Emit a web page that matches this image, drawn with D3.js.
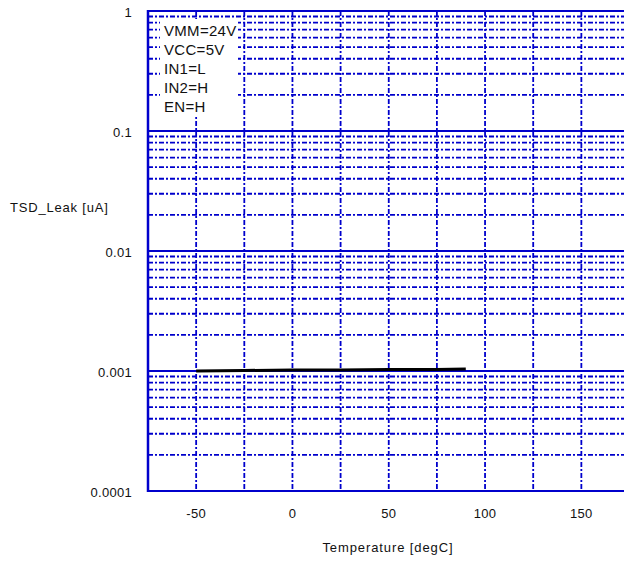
<!DOCTYPE html>
<html>
<head>
<meta charset="utf-8">
<script src="https://cdn.jsdelivr.net/npm/d3@7"></script>
<style>
  body { margin: 0; background: #fff; }
  text { font-family: "Liberation Sans", Arial, sans-serif; fill: #111; }
</style>
</head>
<body>
<div id="chart"></div>
<script>
// data
const temps = [-50, -25, 0, 25, 50, 75, 90]
const leak = [0.00100, 0.00101, 0.00102, 0.00102, 0.00103, 0.00103, 0.00104]
const xTicks = [-50, 0, 50, 100, 150]
const xGrid = [-50, -25, 0, 25, 50, 75, 100, 125, 150]
const yDecades = [1, 0.1, 0.01, 0.001, 0.0001]
const yTickLabels = ["1", "0.1", "0.01", "0.001", "0.0001"]
const conditions = ["VMM=24V", "VCC=5V", "IN1=L", "IN2=H", "EN=H"]

const W = 624, H = 563
const blue = "#0000cc"

const svg = d3.select("#chart").append("svg")
    .attr("width", W)
    .attr("height", H)

const x = d3.scaleLinear().domain([-75, 175]).range([148, 629.5])
const y = d3.scaleLog().domain([0.0001, 1]).range([491, 11])

// minor horizontal grid (2..9 of each decade)
let minors = []
yDecades.slice(1).forEach(d => {
    for (let k = 2; k <= 9; k++) minors.push(d * k)
})

svg.append("g").selectAll("line")
    .data(minors)
    .enter()
    .append("line")
        .attr("x1", x(-75))
        .attr("x2", x(175))
        .attr("y1", d => y(d))
        .attr("y2", d => y(d))
        .attr("stroke", blue)
        .attr("stroke-width", 1.8)
        .attr("stroke-dasharray", "5,2,2,2")

// vertical grid
svg.append("g").selectAll("line")
    .data(xGrid)
    .enter()
    .append("line")
        .attr("x1", d => x(d))
        .attr("x2", d => x(d))
        .attr("y1", y(1))
        .attr("y2", y(0.0001))
        .attr("stroke", blue)
        .attr("stroke-width", 1.8)
        .attr("stroke-dasharray", "5,2,2,2")

// decade lines
svg.append("g").selectAll("line")
    .data(yDecades)
    .enter()
    .append("line")
        .attr("x1", x(-75))
        .attr("x2", x(175))
        .attr("y1", d => y(d))
        .attr("y2", d => y(d))
        .attr("stroke", blue)
        .attr("stroke-width", 2.2)

// left frame
svg.append("line")
    .attr("x1", x(-75)).attr("x2", x(-75))
    .attr("y1", y(1) - 1).attr("y2", y(0.0001) + 1)
    .attr("stroke", blue)
    .attr("stroke-width", 2.5)

// conditions box
svg.append("rect")
    .attr("x", 160)
    .attr("y", 19)
    .attr("width", 78)
    .attr("height", 97)
    .attr("fill", "#fff")

svg.append("g").selectAll("text")
    .data(conditions)
    .enter()
    .append("text")
        .attr("x", 164)
        .attr("y", (d, i) => 36 + i * 19)
        .style("font-size", "15px")
        .style("letter-spacing", "0.3px")
        .text(d => d)

// data line
const line = d3.line()
    .x((d, i) => x(temps[i]))
    .y(d => y(d))

svg.append("path")
    .datum(leak)
    .attr("d", line)
    .attr("fill", "none")
    .attr("stroke", "#000")
    .attr("stroke-width", 3)

// y tick labels
svg.append("g").selectAll("text")
    .data(yDecades)
    .enter()
    .append("text")
        .attr("x", 132)
        .attr("y", d => y(d) + 6)
        .attr("text-anchor", "end")
        .style("font-size", "13px")
        .style("letter-spacing", "0.3px")
        .text((d, i) => yTickLabels[i])

// x tick labels
svg.append("g").selectAll("text")
    .data(xTicks)
    .enter()
    .append("text")
        .attr("x", d => x(d))
        .attr("y", 518)
        .attr("text-anchor", "middle")
        .style("font-size", "13px")
        .style("letter-spacing", "0.3px")
        .text(d => d)

// axis titles
svg.append("text")
    .attr("x", 388)
    .attr("y", 552)
    .attr("text-anchor", "middle")
    .style("font-size", "13px")
    .style("letter-spacing", "0.9px")
    .text("Temperature [degC]")

svg.append("text")
    .attr("x", 10)
    .attr("y", 212)
    .style("font-size", "13px")
    .style("letter-spacing", "0.8px")
    .text("TSD_Leak [uA]")
</script>
</body>
</html>
